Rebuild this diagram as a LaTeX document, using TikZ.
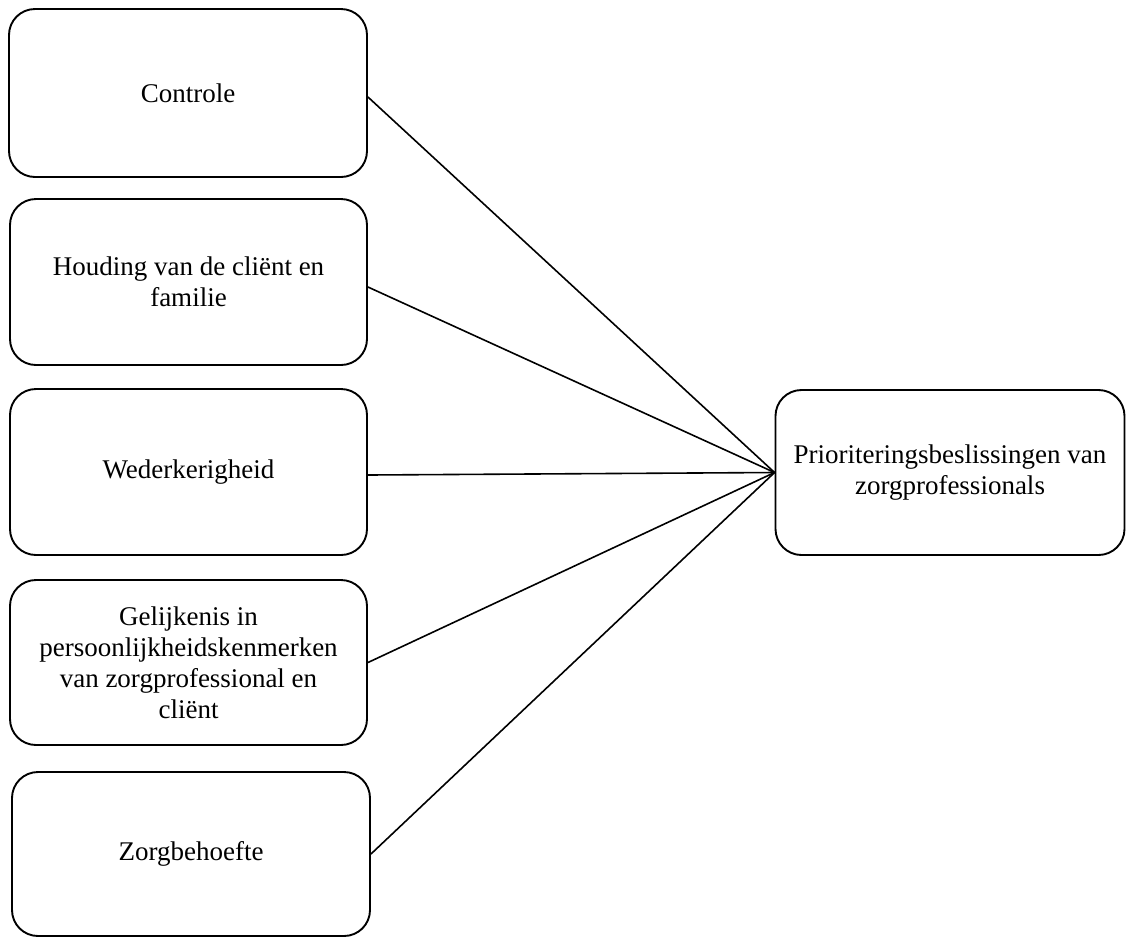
\documentclass[tikz,border=0pt]{standalone}
\usepackage{fontspec}
\setmainfont{Liberation Serif}
\begin{document}
\begin{tikzpicture}[x=1pt,y=-1pt,
  box/.style={draw=black, line width=1.9pt, rounded corners=26pt, align=center,
    font=\fontsize{27}{31}\selectfont, inner sep=0pt},
  conn/.style={draw=black, line width=1.6pt}]
\useasboundingbox (0,0) rectangle (1126,938);
\node[box, minimum width=358pt, minimum height=168pt] (b1) at (188,93) {\raisebox{-3pt}{Controle}};
\node[box, minimum width=357pt, minimum height=166pt] (b2) at (188.5,282) {Houding van de cliënt en\\familie};
\node[box, minimum width=357pt, minimum height=166pt] (b3) at (188.5,472) {\raisebox{-2pt}{Wederkerigheid}};
\node[box, minimum width=357pt, minimum height=165pt] (b4) at (188.5,662.5) {Gelijkenis in\\persoonlijkheidskenmerken\\van zorgprofessional en\\cliënt};
\node[box, minimum width=358pt, minimum height=164pt] (b5) at (191,854) {\raisebox{-2pt}{Zorgbehoefte}};
\node[box, minimum width=349pt, minimum height=165pt] (r) at (950,472.5) {Prioriteringsbeslissingen van\\zorgprofessionals};
\draw[conn] ([yshift=-4pt]b1.east) -- (r.west);
\draw[conn] ([yshift=-5pt]b2.east) -- (r.west);
\draw[conn] ([yshift=-3pt]b3.east) -- (r.west);
\draw[conn] (b4.east) -- (r.west);
\draw[conn] (b5.east) -- (r.west);
\end{tikzpicture}
\end{document}
